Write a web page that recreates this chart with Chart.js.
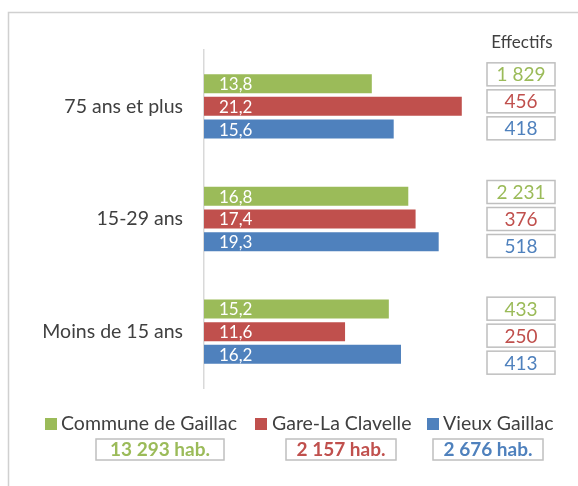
<!DOCTYPE html>
<html><head><meta charset="utf-8">
<script src="https://cdn.jsdelivr.net/npm/chart.js@4"></script>
<style>html,body{margin:0;padding:0;background:#fff;}#wrap{width:578px;height:486px;position:relative;}</style>
</head><body><div id="wrap"><canvas id="c" width="578" height="486"></canvas></div>
<script>
const categories = ['75 ans et plus', '15-29 ans', 'Moins de 15 ans'];
const seriesNames = ['Commune de Gaillac', 'Gare-La Clavelle', 'Vieux Gaillac'];
const communeValues = [13.8, 16.8, 15.2];
const gareValues = [21.2, 17.4, 11.6];
const vieuxValues = [15.6, 19.3, 16.2];
const communeEffectifs = ['1 829', '2 231', '433'];
const gareEffectifs = ['456', '376', '250'];
const vieuxEffectifs = ['418', '518', '413'];
const populations = ['13 293 hab.', '2 157 hab.', '2 676 hab.'];
const effectifsTitle = 'Effectifs';

const colors = ['#9BBB59', '#C0504D', '#4F81BD'];
const FONT = 'Lato, "Open Sans", sans-serif';
const TXT = '#404040';

const effectifs = [communeEffectifs, gareEffectifs, vieuxEffectifs];

const extras = {
  id: 'extras',
  beforeDraw(chart) {
    const ctx = chart.ctx;
    ctx.save();
    ctx.fillStyle = '#fff';
    ctx.fillRect(0, 0, chart.width, chart.height);
    ctx.strokeStyle = '#d0d0d0';
    ctx.lineWidth = 1.5;
    ctx.beginPath();
    ctx.moveTo(8.5, chart.height);
    ctx.lineTo(8.5, 12.5);
    ctx.lineTo(chart.width, 12.5);
    ctx.stroke();
    ctx.restore();
  },
  afterDatasetsDraw(chart) {
    const ctx = chart.ctx;
    const yScale = chart.scales.y;
    ctx.save();
    // value labels inside bars
    ctx.font = '17px ' + FONT;
    ctx.fillStyle = '#fff';
    ctx.textAlign = 'left';
    ctx.textBaseline = 'middle';
    chart.data.datasets.forEach((ds, di) => {
      chart.getDatasetMeta(di).data.forEach((bar, i) => {
        ctx.fillText(String(ds.data[i]).replace('.', ','), bar.base + 15, bar.y + 1);
      });
    });
    // Effectifs title
    ctx.fillStyle = TXT;
    ctx.textAlign = 'center';
    ctx.font = '17px ' + FONT;
    ctx.fillText(effectifsTitle, 522, 43);
    // Effectifs boxes
    const shift = [-5, 0, 4];
    ctx.font = '19px ' + FONT;
    categories.forEach((c, i) => {
      const gc = yScale.getPixelForValue(i) + shift[i];
      for (let j = 0; j < 3; j++) {
        const cy = gc + (j - 1) * 27;
        ctx.strokeStyle = '#bfbfbf';
        ctx.lineWidth = 1.5;
        ctx.strokeRect(487, cy - 11.5, 68, 23);
        ctx.fillStyle = colors[j];
        ctx.fillText(effectifs[j][i], 521, cy + 1);
      }
    });
    // Legend
    const legendY = 424;
    const items = [{sq: 45, tx: 61}, {sq: 255, tx: 272}, {sq: 427, tx: 443}];
    ctx.font = '19.5px ' + FONT;
    ctx.textAlign = 'left';
    seriesNames.forEach((n, j) => {
      ctx.fillStyle = colors[j];
      ctx.fillRect(items[j].sq, legendY - 6, 12, 12);
      ctx.fillStyle = TXT;
      ctx.fillText(n, items[j].tx, legendY);
    });
    // population boxes
    const boxes = [[96, 128], [286, 110], [433, 110]];
    ctx.font = 'bold 19px ' + FONT;
    ctx.textAlign = 'center';
    populations.forEach((p, j) => {
      ctx.strokeStyle = '#bfbfbf';
      ctx.lineWidth = 1.5;
      ctx.strokeRect(boxes[j][0], 439, boxes[j][1], 21);
      ctx.fillStyle = colors[j];
      ctx.fillText(p, boxes[j][0] + boxes[j][1] / 2, 450);
    });
    ctx.restore();
  }
};

new Chart(document.getElementById('c'), {
  type: 'bar',
  data: {
    labels: categories,
    datasets: [
      { label: seriesNames[0], data: communeValues, backgroundColor: colors[0] },
      { label: seriesNames[1], data: gareValues, backgroundColor: colors[1] },
      { label: seriesNames[2], data: vieuxValues, backgroundColor: colors[2] }
    ]
  },
  options: {
    indexAxis: 'y',
    responsive: false,
    animation: false,
    devicePixelRatio: 1,
    categoryPercentage: 0.604,
    barPercentage: 0.837,
    layout: { padding: { top: 50, right: 70, bottom: 98, left: 0 } },
    plugins: { legend: { display: false }, tooltip: { enabled: false } },
    scales: {
      x: { display: false, min: 0, max: 25 },
      y: {
        afterFit(scale) { scale.width = 204; },
        grid: { display: false, drawTicks: false },
        border: { display: true, color: '#d9d9d9', width: 1.5 },
        ticks: { padding: 21, color: TXT, font: { family: FONT, size: 19.5 } }
      }
    }
  },
  plugins: [extras]
});
</script>
</body></html>
